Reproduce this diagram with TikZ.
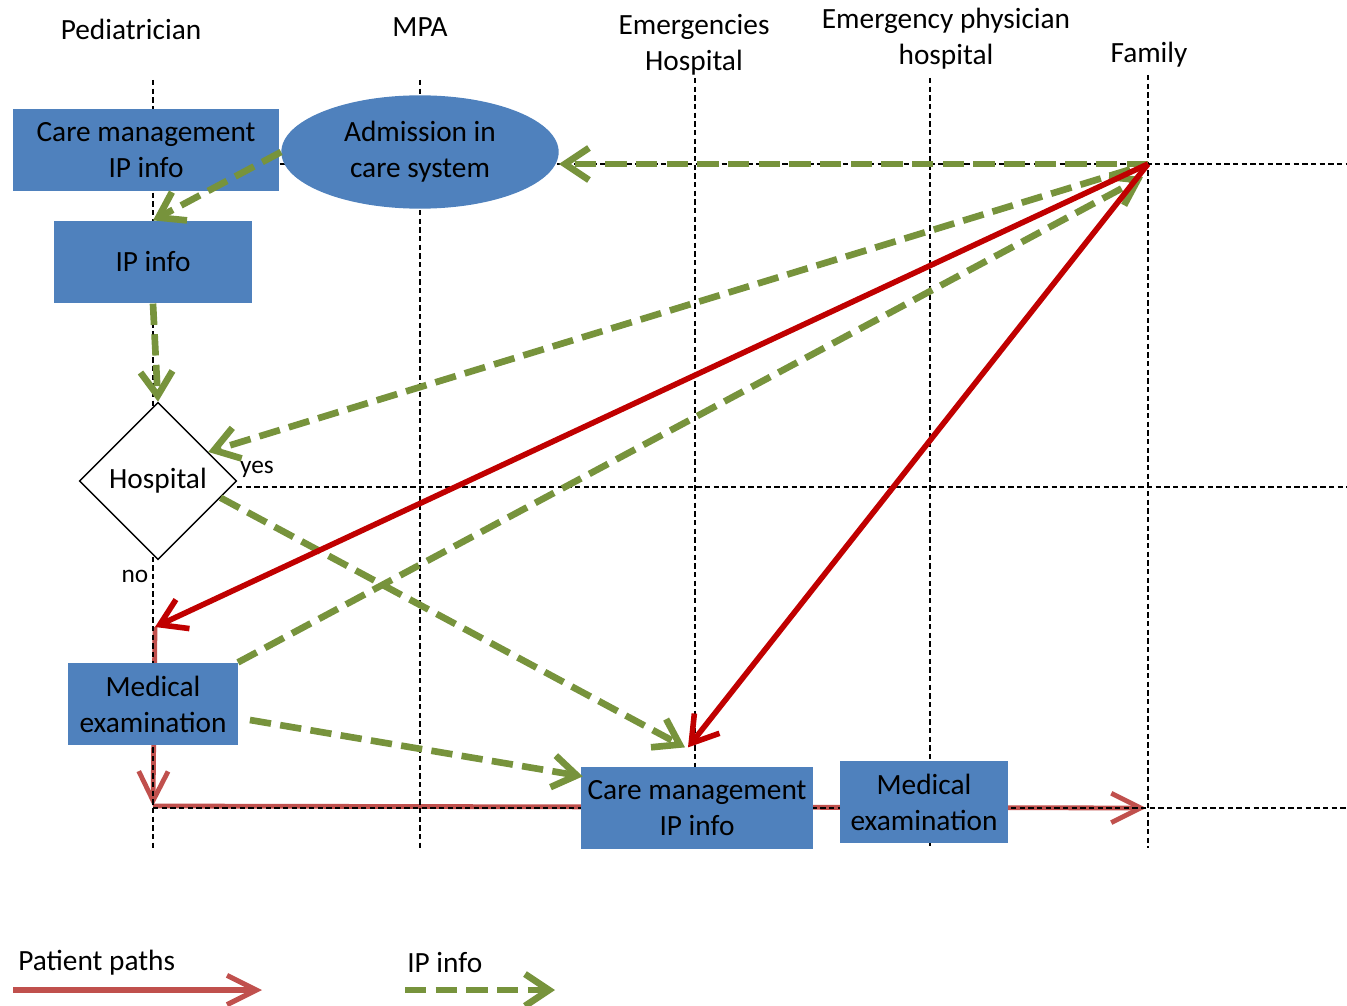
\documentclass[tikz,border=0pt]{standalone}
\usepackage{fontspec}
\setmainfont{Carlito}
\usetikzlibrary{arrows.meta,shapes.geometric}
\definecolor{cbox}{HTML}{4F81BD}
\definecolor{cinfo}{HTML}{77933C}
\definecolor{cpath}{HTML}{C00000}
\definecolor{cpathl}{HTML}{C0504D}
\pgfdeclarelayer{background}
\pgfsetlayers{background,main}

\begin{document}
\begin{tikzpicture}[x=0.75pt, y=-0.75pt,
  font=\fontsize{22}{27}\selectfont,
  lane/.style={align=center, inner sep=0pt},
  box/.style={fill=cbox, align=center, inner sep=0pt, minimum width=#1, minimum height=62pt},
  lanegrid/.style={line width=0.9pt, dash pattern=on 4pt off 2.5pt},
  ipflow/.style={-{Straight Barb[length=18pt, width=24pt]}, line width=5pt, draw=cinfo,
                 dash pattern=on 16pt off 7pt},
  patient/.style={-{Straight Barb[length=19pt, width=24pt]}, line width=4.2pt, draw=cpath},
  patientl/.style={-{Straight Barb[length=22pt, width=22pt]}, line width=3.6pt, draw=cpathl},
  small/.style={font=\fontsize{19}{22}\selectfont, inner sep=0pt},
]
\useasboundingbox (0,0) rectangle (1347,1006);

% ------------------------------------------------------------ lanes
\node[lane] (hped) at (131,29) {Pediatrician};
\node[lane] (hmpa) at (420,27) {MPA};
\node[lane] (hemerg) at (694,45) {Emergencies\\Hospital};
\node[lane] (hphys) at (946,39) {Emergency physician\\hospital};
\node[lane] (hfam) at (1149,55) {Family};

\coordinate (fam) at (1148,164);
\coordinate (famin) at (1143,177);
\coordinate (noend) at (155,627);
\coordinate (pathbot) at (153,806);
\coordinate (pathend) at (1146,808);

% ------------------------------------------------------------ steps
\node[box=200pt] (care1) at (146,150) {Care management\\IP info};
\node[ellipse, fill=cbox, align=center, inner sep=0pt, minimum width=208pt, minimum height=85pt]
  (admission) at (420,152) {Admission in\\care system};
\node[box=148pt] (ipinfo) at (153,262) {IP info};
\node[diamond, aspect=1, draw, fill=white, line width=1pt, inner sep=0pt, minimum size=118pt]
  (hospital) at (158,481) {Hospital};
\node[small] (yes) at (257,469) {yes};
\node[small] (no) at (135,576) {no};
\node[box=127pt] (exam1) at (153,704) {Medical\\examination};
\node[box=174pt] (care2) at (697,808) {Care management\\IP info};
\node[box=126pt] (exam2) at (924,802) {Medical\\examination};

% ------------------------------------------------------------ grid and the way through
\begin{pgfonlayer}{background}
\draw[patientl] (noend) -- (pathbot);
\draw[patientl] (pathbot) -- (pathend);
\foreach \x/\top in {153/80, 420/80, 695/78, 930/78, 1148/75}
  \draw[lanegrid] (\x,\top) -- (\x,848);
\draw[lanegrid] (care1.east |- fam) -- (1347,164);
\draw[lanegrid] (237,487) -- (1347,487);
\draw[lanegrid] (153,808) -- (1347,808);
\end{pgfonlayer}

% ------------------------------------------------------------ IP info
\draw[ipflow] (fam) -- (fam -| admission.east);
\draw[ipflow] (admission.west) -- (ipinfo.north);
\draw[ipflow] (ipinfo.south) -- (hospital.north);
\draw[ipflow, shorten <=14pt] (fam) -- (hospital.30);
\draw[ipflow] (exam1.north east) -- (famin);
\draw[ipflow] (hospital.-15) -- ([shift={(-12,-19)}]care2.north);
\draw[ipflow] ([shift={(12,16)}]exam1.east) -- ([shift={(2,10)}]care2.north west);

% ------------------------------------------------------------ patients
\draw[patient] (fam) -- (noend);
\draw[patient] (fam) -- ([shift={(-9,-19)}]care2.north);

% ------------------------------------------------------------ legend
\node[lane, anchor=west] (legpath) at (18,963) {Patient paths};
\node[lane, anchor=west] (leginfo) at (407,963) {IP info};
\coordinate (legpatha) at (13,990);
\coordinate (legpathb) at (262,990);
\coordinate (leginfoa) at (405,990);
\coordinate (leginfob) at (555,990);
\draw[patientl, line width=3.8pt] (legpatha) -- (legpathb);
\draw[ipflow] (leginfoa) -- (leginfob);
\end{tikzpicture}
\end{document}
